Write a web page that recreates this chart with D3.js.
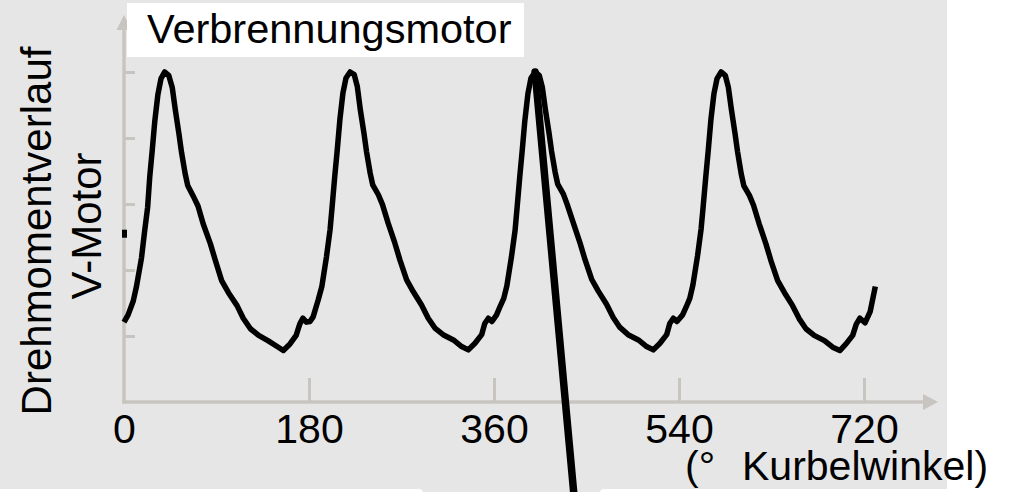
<!DOCTYPE html>
<html>
<head>
<meta charset="utf-8">
<script src="https://cdn.jsdelivr.net/npm/d3@7"></script>
<style>
  html, body { margin: 0; padding: 0; background: #ffffff; }
  svg { display: block; font-family: "Liberation Sans", Arial, Helvetica, sans-serif; }
</style>
</head>
<body>
<svg id="chart" width="1014" height="492"></svg>
<script>
// Crank angle (°) and torque (relative units) of the V-engine torque curve
const crankAngle = [
  0, 4, 9, 12, 17, 20, 23, 25, 27.5, 30, 33, 36, 39.5, 43.5, 47, 50, 53.5, 56, 59.5, 62,
  67, 72, 77, 84, 89, 95, 101.5, 110, 116, 123, 131, 140, 149, 155, 161.5, 167.5, 171, 174, 177.5,
  181, 184, 189, 192.5, 197, 200.5, 202.5, 205, 207.5, 210, 213, 216, 220, 224, 227, 230, 233.5, 236, 239.5, 242,
  247.5, 251.5, 257, 263.5, 268.5, 275, 281.5, 289.5, 296, 302.5, 310.5, 320.5, 328.5, 335, 341.5, 348, 351, 354.5, 358,
  362.5, 366, 369.5, 372.5, 377, 380.5, 382.5, 385, 387.5, 390, 393, 396, 400, 404, 407, 410, 413.5, 416, 419.5, 422,
  427.5, 431.5, 437, 443.5, 448.5, 455, 461.5, 469.5, 476, 482.5, 490.5, 500.5, 508.5, 515, 521.5, 528, 531, 534.5, 538,
  543.5, 547, 550.5, 553.5, 558, 561.5, 563.5, 566, 568.5, 571, 574, 577, 581, 585, 588, 591, 594.5, 597, 600.5, 603,
  608.5, 612.5, 618, 624.5, 629.5, 636, 642.5, 650.5, 657, 663.5, 671.5, 681.5, 689.5, 696.5, 702.5, 709, 712.5, 716, 721, 726, 731
];
const torque = [
  1.21, 1.32, 1.53, 1.74, 2.18, 2.58, 2.95, 3.40, 3.82, 4.26, 4.66, 4.90, 5.00, 4.95, 4.76, 4.42, 4.06, 3.78, 3.46, 3.28,
  3.13, 2.97, 2.70, 2.40, 2.14, 1.84, 1.66, 1.46, 1.27, 1.11, 1.01, 0.93, 0.84, 0.78, 0.88, 1.01, 1.18, 1.27, 1.21,
  1.22, 1.29, 1.55, 1.75, 2.20, 2.61, 2.96, 3.41, 3.82, 4.27, 4.68, 4.91, 5.00, 4.96, 4.78, 4.42, 4.07, 3.79, 3.47, 3.29,
  3.14, 2.99, 2.71, 2.41, 2.15, 1.85, 1.67, 1.47, 1.27, 1.12, 1.02, 0.94, 0.84, 0.79, 0.89, 1.02, 1.19, 1.27, 1.22,
  1.32, 1.45, 1.57, 1.76, 2.20, 2.60, 2.95, 3.40, 3.82, 4.26, 4.67, 4.91, 5.00, 4.95, 4.77, 4.43, 4.08, 3.80, 3.48, 3.30,
  3.15, 2.98, 2.72, 2.42, 2.16, 1.86, 1.68, 1.48, 1.28, 1.13, 1.02, 0.94, 0.84, 0.79, 0.89, 1.02, 1.19, 1.27, 1.22,
  1.32, 1.44, 1.57, 1.77, 2.21, 2.62, 2.96, 3.40, 3.82, 4.27, 4.67, 4.90, 5.00, 4.95, 4.77, 4.43, 4.07, 3.79, 3.46, 3.28,
  3.13, 2.98, 2.70, 2.40, 2.14, 1.84, 1.66, 1.46, 1.26, 1.11, 1.01, 0.93, 0.83, 0.78, 0.88, 1.01, 1.18, 1.27, 1.20, 1.37, 1.75
];

// Axis ticks
const xTicks = [0, 180, 360, 540, 720];
const xTickLabels = ["0", "180", "360", "540", "720"];
const yTicks = [1, 2, 3, 4, 5];

// Texts
const titleText = "Verbrennungsmotor";
const yLabelLines = ["Drehmomentverlauf", "V-Motor"];
const xLabelParts = ["(°", "Kurbelwinkel)"];

// Callout line from the third peak downward, and the small marker on the y axis
const leaderFrom = [400, 5.0];
const leaderTo = [437.5, -1.36];
const axisMarker = 2.55;

const svg = d3.select("#chart");
const W = 1014, H = 492;
const axisColor = "#c8c4c0";

const x = d3.scaleLinear().domain([0, 720]).range([124, 864]);
const y = d3.scaleLinear().domain([0, 5]).range([402, 72]);

// Panel background
svg.append("rect").attr("x", 0).attr("y", 0).attr("width", 947).attr("height", H).attr("fill", "#e6e6e6");
svg.append("rect").attr("x", -10).attr("y", 489).attr("width", 433).attr("height", 12).attr("rx", 4).attr("fill", "#ffffff");
svg.append("rect").attr("x", 600).attr("y", 489).attr("width", 360).attr("height", 12).attr("rx", 4).attr("fill", "#ffffff");

// X axis: line with arrow, upward ticks
svg.append("line")
  .attr("x1", x(0) - 1.5).attr("x2", 925).attr("y1", y(0)).attr("y2", y(0))
  .attr("stroke", axisColor).attr("stroke-width", 3.5);
svg.append("path")
  .attr("d", `M${938},${y(0)} L${923},${y(0) - 8} L${923},${y(0) + 8} Z`)
  .attr("fill", axisColor);

const xAxis = d3.axisBottom(x).tickValues(xTicks)
  .tickFormat((d, i) => xTickLabels[i]).tickSize(-24).tickSizeOuter(0);
const gx = svg.append("g").attr("transform", `translate(0,${y(0)})`).call(xAxis);
gx.select(".domain").remove();
gx.selectAll(".tick line").attr("stroke", axisColor).attr("stroke-width", 3)
  .filter(d => d === 0).remove();
gx.selectAll(".tick text")
  .attr("y", 41).attr("dy", 0)
  .attr("fill", "#000").attr("font-size", 41)
  .attr("font-family", "'Liberation Sans', Arial, sans-serif");

// Y axis: line with arrow, inward ticks, no labels
svg.append("line")
  .attr("x1", x(0)).attr("x2", x(0)).attr("y1", y(0) + 1.5).attr("y2", 28)
  .attr("stroke", axisColor).attr("stroke-width", 3.5);
svg.append("path")
  .attr("d", `M${x(0)},15 L${x(0) - 7.5},30 L${x(0) + 7.5},30 Z`)
  .attr("fill", axisColor);
const yAxis = d3.axisLeft(y).tickValues(yTicks).tickFormat("").tickSize(-11).tickSizeOuter(0);
const gy = svg.append("g").attr("transform", `translate(${x(0)},0)`).call(yAxis);
gy.select(".domain").remove();
gy.selectAll(".tick line").attr("stroke", axisColor).attr("stroke-width", 3);

// Small marker on the y axis
svg.append("rect")
  .attr("x", x(0) - 2).attr("y", y(axisMarker) - 4)
  .attr("width", 5).attr("height", 8).attr("fill", "#000");

// Title box
svg.append("rect").attr("x", 127).attr("y", 3).attr("width", 397).attr("height", 54).attr("fill", "#ffffff");
svg.append("text")
  .attr("x", 147).attr("y", 43)
  .attr("font-size", 41.5).attr("fill", "#000")
  .text(titleText);

// Torque curve
const points = crankAngle.map((a, i) => [a, torque[i]]);
const line = d3.line().x(d => x(d[0])).y(d => y(d[1])).curve(d3.curveLinear);
svg.append("path")
  .datum(points)
  .attr("d", line)
  .attr("fill", "none")
  .attr("stroke", "#000")
  .attr("stroke-width", 5.5)
  .attr("stroke-linejoin", "round");

// Callout line
svg.append("line")
  .attr("x1", x(leaderFrom[0])).attr("y1", y(leaderFrom[1]))
  .attr("x2", x(leaderTo[0])).attr("y2", y(leaderTo[1]))
  .attr("stroke", "#000").attr("stroke-width", 7.5).attr("stroke-linecap", "round");

// Y axis label, two rotated lines
const yLabelX = [51, 101];
yLabelLines.forEach((t, i) => {
  svg.append("text")
    .attr("transform", `translate(${yLabelX[i]},${i === 0 ? 231 : 226}) rotate(-90)`)
    .attr("text-anchor", "middle")
    .attr("font-size", 42).attr("fill", "#000")
    .text(t);
});

// X axis label
const xl = svg.append("text").attr("y", 480).attr("font-size", 41).attr("fill", "#000");
xl.append("tspan").attr("x", 685).text(xLabelParts[0]);
xl.append("tspan").attr("x", 742).text(xLabelParts[1]);
</script>
</body>
</html>
